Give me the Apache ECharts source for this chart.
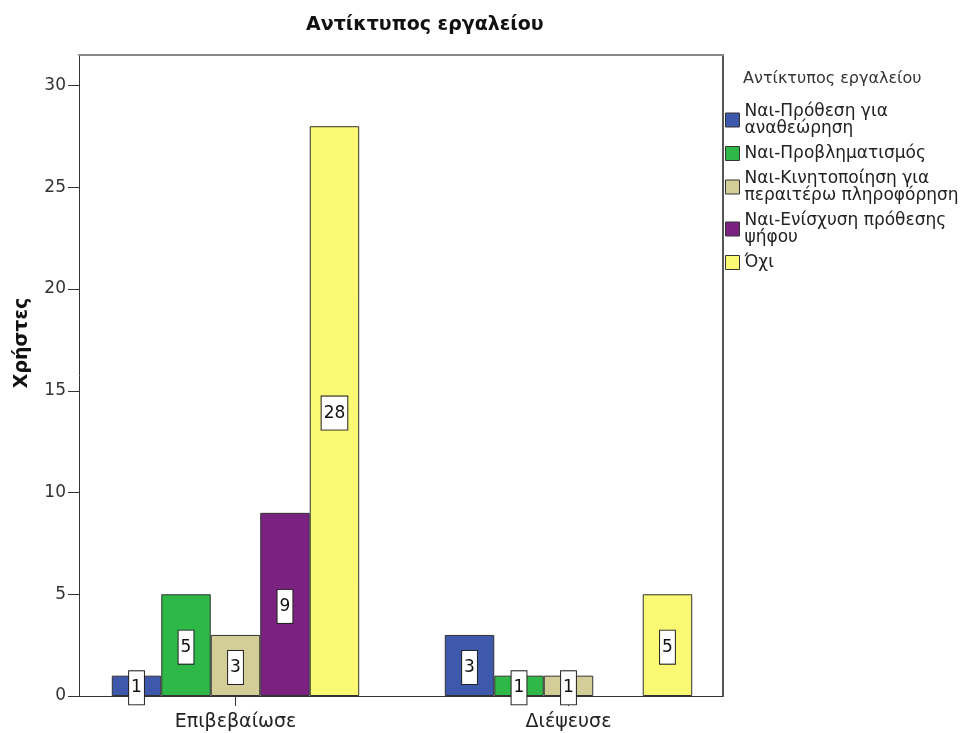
<!DOCTYPE html>
<html>
<head>
<meta charset="utf-8">
<script src="https://cdn.jsdelivr.net/npm/echarts@6/dist/echarts.min.js"></script>
<style>html,body{margin:0;padding:0;background:#fff}#c{width:962px;height:733px}</style>
</head>
<body>
<div id="c"></div>
<script>
const categories = ['Επιβεβαίωσε', 'Διέψευσε'];
const seriesNames = ['Ναι-Πρόθεση για\nαναθεώρηση', 'Ναι-Προβληματισμός', 'Ναι-Κινητοποίηση για\nπεραιτέρω πληροφόρηση', 'Ναι-Ενίσχυση πρόθεσης\nψήφου', 'Όχι'];
const valuesRevision = [1, 3];
const valuesReflection = [5, 1];
const valuesMobilization = [3, 1];
const valuesReinforcement = [9, null];
const valuesNo = [28, 5];
const yTicks = [0, 5, 10, 15, 20, 25, 30];
const colors = ['#3E58AC', '#2EB848', '#D3CE97', '#7B2281', '#FBF873'];
const seriesValues = [valuesRevision, valuesReflection, valuesMobilization, valuesReinforcement, valuesNo];

const FONT = '"DejaVu Sans", Verdana, sans-serif';
const chart = echarts.init(document.getElementById('c'), null, {renderer: 'canvas'});

const series = seriesNames.map((name, i) => ({
  name: name,
  type: 'bar',
  xAxisIndex: 2,
  yAxisIndex: 2,
  barGap: '0%',
  barCategoryGap: '25.7%',
  data: seriesValues[i].map(v => v === null ? '-' : v),
  itemStyle: {color: colors[i], borderColor: '#333', borderWidth: 1},
  label: {
    show: true,
    position: 'inside',
    offset: [0, 2],
    formatter: '{c}',
    fontFamily: FONT,
    fontSize: 17,
    lineHeight: 22,
    color: '#111',
    backgroundColor: '#fff',
    borderColor: '#222',
    borderWidth: 1,
    padding: [6, 2, 5, 2]
  },
  emphasis: {disabled: true}
}));

chart.setOption({
  animation: false,
  title: [
    {text: 'Αντίκτυπος εργαλείου', left: 301, top: 11,
     textStyle: {fontFamily: FONT, fontWeight: 'bold', fontSize: 19, color: '#111'}},
    {text: 'Αντίκτυπος εργαλείου', left: 738, top: 66,
     textStyle: {fontFamily: FONT, fontWeight: 'normal', fontSize: 16, color: '#333'}}
  ],
  graphic: [
    {type: 'text', x: 22, y: 343, rotation: Math.PI / 2,
     style: {text: 'Χρήστες', fontFamily: FONT, fontWeight: 'bold', fontSize: 19,
              fill: '#111', align: 'center', verticalAlign: 'middle'}}
  ],
  legend: {
    orient: 'vertical',
    left: 725,
    top: 103,
    padding: 0,
    itemWidth: 14,
    itemHeight: 14,
    itemGap: 8,
    icon: 'rect',
    data: seriesNames,
    textStyle: {fontFamily: FONT, fontSize: 17, lineHeight: 17, color: '#222'},
    itemStyle: {borderColor: '#333', borderWidth: 1}
  },
  grid: [
    {left: 79, right: 239, top: 55, bottom: 37},
    {left: 69, width: 666, top: 55, bottom: 37}
  ],
  xAxis: [
    {gridIndex: 0, type: 'value', min: 0, max: 1, position: 'bottom',
     axisLine: {show: true, onZero: false, lineStyle: {color: '#333', width: 1}},
     axisTick: {show: false}, axisLabel: {show: false}, splitLine: {show: false}},
    {gridIndex: 0, type: 'value', min: 0, max: 1, position: 'top',
     axisLine: {show: true, onZero: false, lineStyle: {color: '#888', width: 2}},
     axisTick: {show: false}, axisLabel: {show: false}, splitLine: {show: false}},
    {gridIndex: 1, type: 'category', data: categories, position: 'bottom',
     axisLine: {show: false, onZero: false},
     axisTick: {show: true, alignWithLabel: true, length: 10, lineStyle: {color: '#333'}},
     axisLabel: {fontFamily: FONT, fontSize: 19, color: '#222', margin: 17},
     splitLine: {show: false}}
  ],
  yAxis: [
    {gridIndex: 0, type: 'value', min: 0, max: 31.5, position: 'left',
     axisLine: {show: true, onZero: false, lineStyle: {color: '#333', width: 1}},
     axisTick: {show: true, length: 11, customValues: yTicks, lineStyle: {color: '#333'}},
     axisLabel: {fontFamily: FONT, fontSize: 17, color: '#333', margin: 13, customValues: yTicks},
     splitLine: {show: false}},
    {gridIndex: 0, type: 'value', min: 0, max: 31.5, position: 'right',
     axisLine: {show: true, onZero: false, lineStyle: {color: '#555', width: 2}},
     axisTick: {show: false}, axisLabel: {show: false}, splitLine: {show: false}},
    {gridIndex: 1, type: 'value', min: 0, max: 31.5, show: false, splitLine: {show: false}}
  ],
  series: series
});
</script>
</body>
</html>
